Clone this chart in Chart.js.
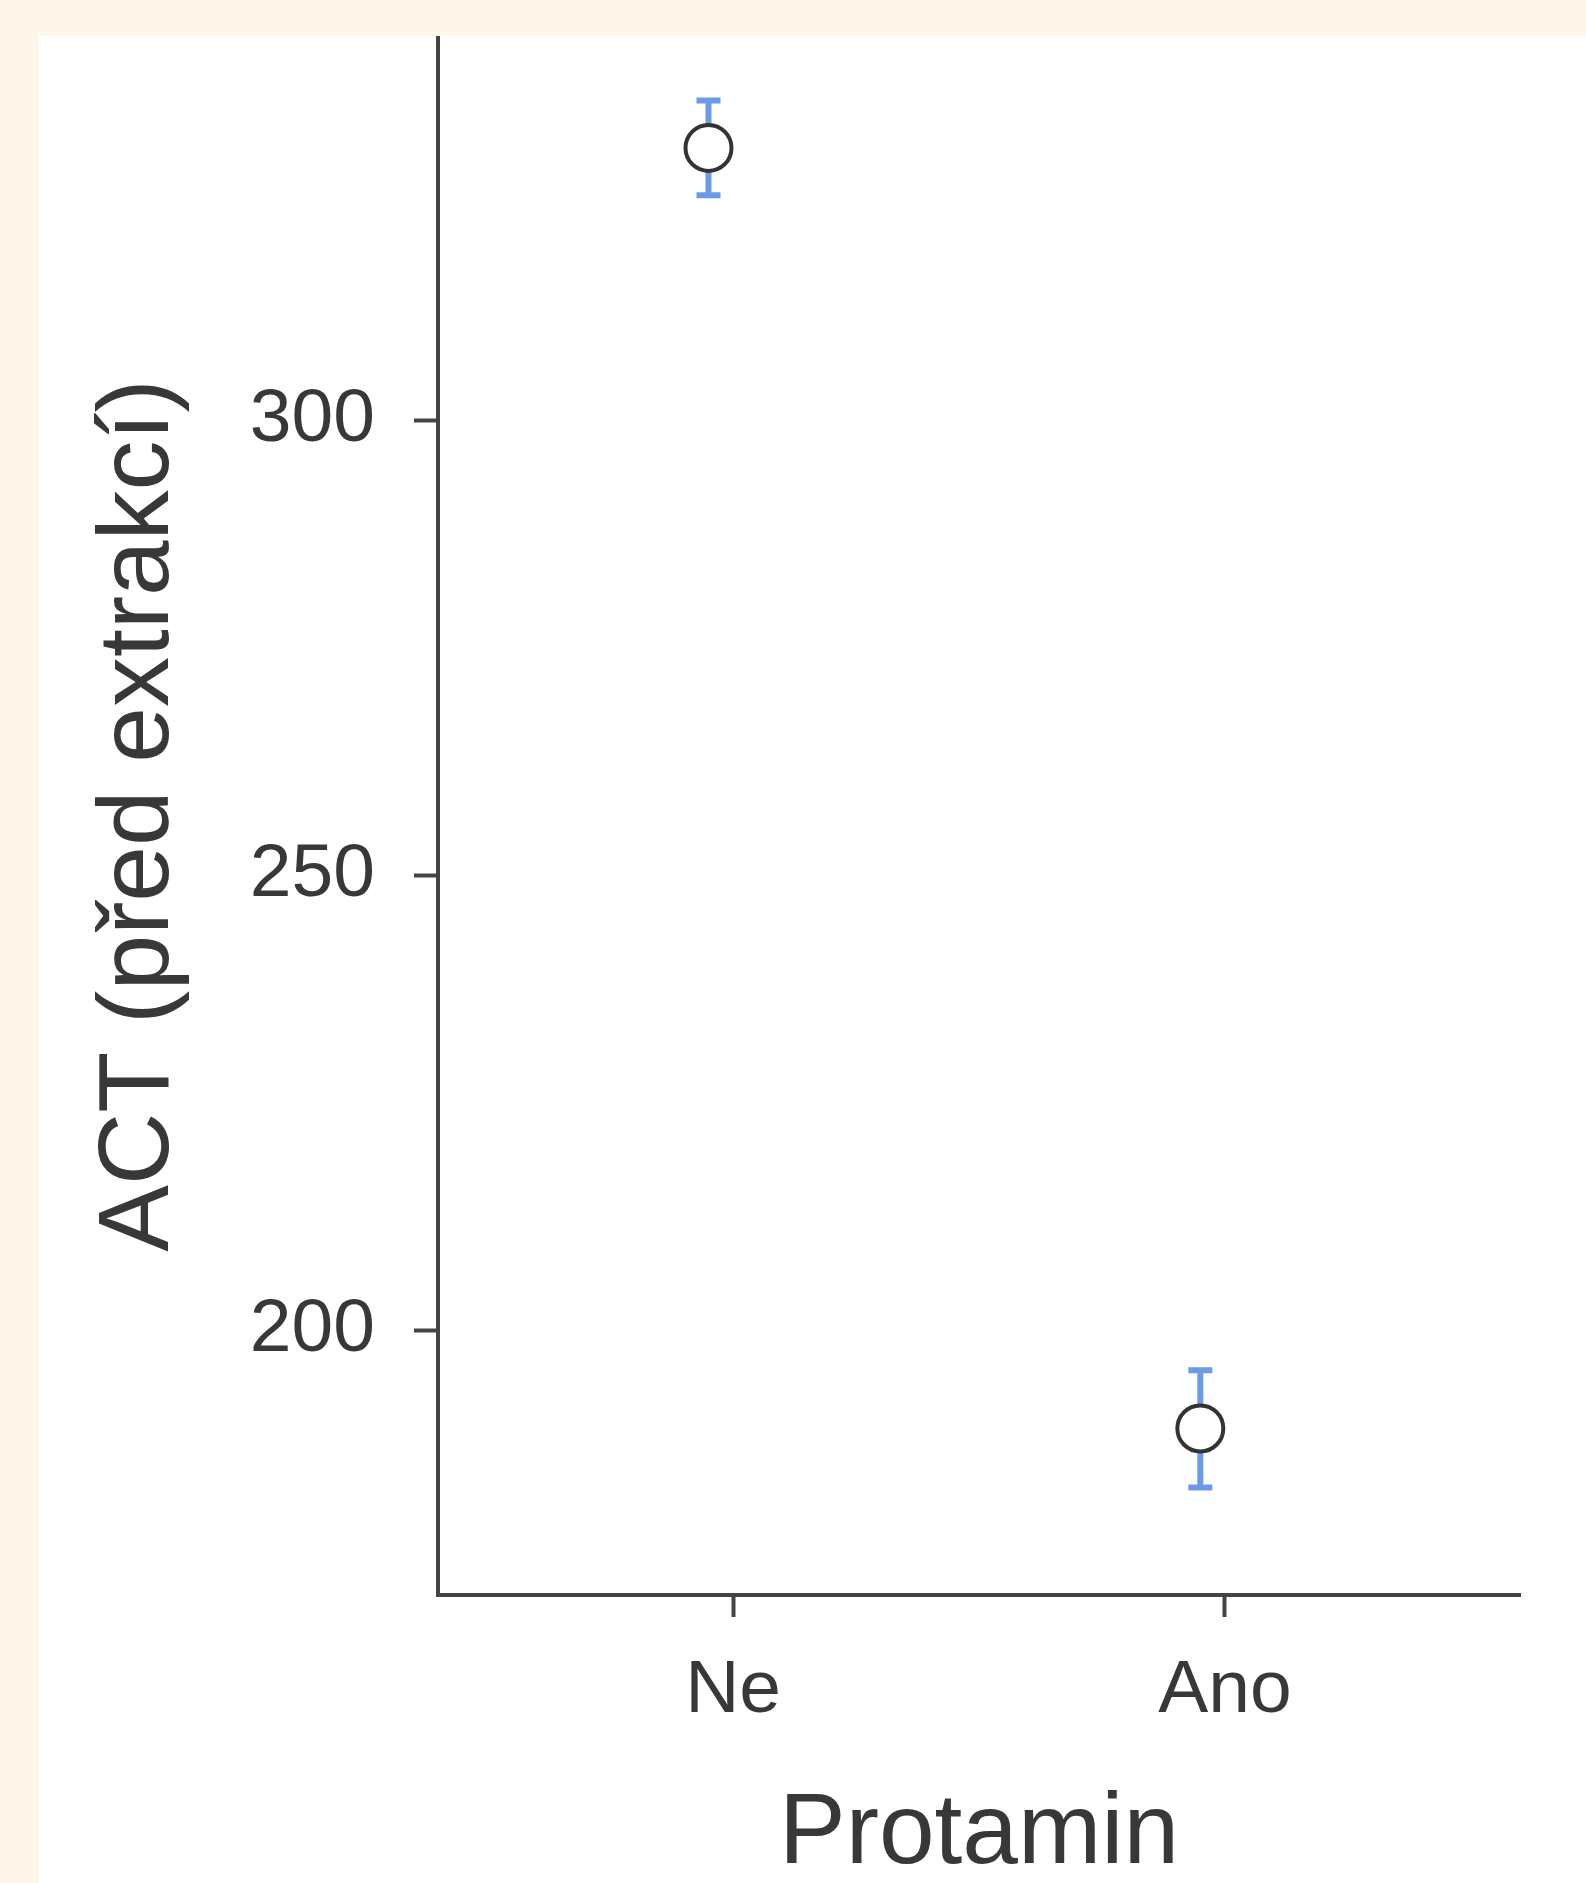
<!DOCTYPE html>
<html>
<head>
<meta charset="utf-8">
<title>ACT před extrakcí</title>
<script src="https://cdn.jsdelivr.net/npm/chart.js@4/dist/chart.umd.min.js"></script>
<style>
  html, body { margin: 0; padding: 0; background: #fef6e9; overflow: hidden; }
  .panel { position: absolute; left: 39px; top: 36px; width: 1547px; height: 1847px; background: #ffffff; }
</style>
</head>
<body>
<div class="panel">
  <canvas id="chart"></canvas>
</div>
<script>
// data
const CATEGORIES = ['Ne', 'Ano'];
const MEANS = [329.9, 189.2];
const CI_LOWER = [324.7, 182.7];
const CI_UPPER = [335.1, 195.6];
const Y_TICKS = [200, 250, 300];
const Y_MIN = 170.9;
const Y_MAX = 342.2;

const FONT = '"Liberation Sans", Arial, Helvetica, sans-serif';
const AXIS_COLOR = '#444444';
const TEXT_COLOR = '#383838';
const DODGE = -0.05; // points sit slightly left of the tick, as in the original

// error bars drawn under the points
const errorBars = {
  id: 'errorBars',
  beforeDatasetsDraw(chart) {
    const { ctx, scales: { x, y } } = chart;
    ctx.save();
    ctx.strokeStyle = '#6b9be6';
    ctx.lineWidth = 6;
    MEANS.forEach((m, i) => {
      const px = x.getPixelForValue(i + 1 + DODGE);
      const top = y.getPixelForValue(CI_UPPER[i]);
      const bot = y.getPixelForValue(CI_LOWER[i]);
      ctx.beginPath();
      ctx.moveTo(px, top);
      ctx.lineTo(px, bot);
      ctx.moveTo(px - 12, top);
      ctx.lineTo(px + 12, top);
      ctx.moveTo(px - 12, bot);
      ctx.lineTo(px + 12, bot);
      ctx.stroke();
    });
    ctx.restore();
  }
};

new Chart(document.getElementById('chart'), {
  type: 'scatter',
  data: {
    datasets: [{
      data: MEANS.map((m, i) => ({ x: i + 1 + DODGE, y: m })),
      pointRadius: 23,
      pointHoverRadius: 23,
      borderWidth: 4,
      borderColor: '#333333',
      backgroundColor: '#ffffff',
    }]
  },
  options: {
    responsive: true,
    maintainAspectRatio: false,
    animation: false,
    layout: { autoPadding: false, padding: { left: 0, right: 66, top: 0, bottom: 0 } },
    plugins: {
      legend: { display: false },
      tooltip: { enabled: false },
    },
    scales: {
      x: {
        type: 'linear',
        min: 0.4,
        max: 2.6,
        afterBuildTicks: s => { s.ticks = CATEGORIES.map((c, i) => ({ value: i + 1 })); },
        afterFit: s => {
          s.height = 288;
          s.paddingLeft = 0;
          s.paddingRight = 0;
        },
        grid: { drawOnChartArea: false, drawTicks: true, tickLength: 22, tickWidth: 4, tickColor: AXIS_COLOR },
        border: { display: true, color: AXIS_COLOR, width: 4 },
        ticks: {
          callback: v => CATEGORIES[v - 1],
          font: { family: FONT, size: 75 },
          color: TEXT_COLOR,
          padding: 29,
          maxRotation: 0,
          autoSkip: false,
        },
        title: {
          display: true,
          text: 'Protamin',
          font: { family: FONT, size: 100, lineHeight: 0.9 },
          color: TEXT_COLOR,
          padding: { top: 0, bottom: 3 },
        },
      },
      y: {
        min: Y_MIN,
        max: Y_MAX,
        afterBuildTicks: s => { s.ticks = Y_TICKS.map(v => ({ value: v })); },
        afterFit: s => {
          s.width = 399;
          s.paddingTop = 0;
          s.paddingBottom = 0;
        },
        grid: { drawOnChartArea: false, drawTicks: true, tickLength: 24, tickWidth: 4, tickColor: AXIS_COLOR },
        border: { display: true, color: AXIS_COLOR, width: 4 },
        ticks: {
          font: { family: FONT, size: 75 },
          color: TEXT_COLOR,
          padding: 39,
        },
        title: {
          display: true,
          text: 'ACT (před extrakcí)',
          font: { family: FONT, size: 100, lineHeight: 1.2 },
          color: TEXT_COLOR,
          padding: { top: 41, bottom: 0 },
        },
      },
    },
  },
  plugins: [errorBars],
});
</script>
</body>
</html>
